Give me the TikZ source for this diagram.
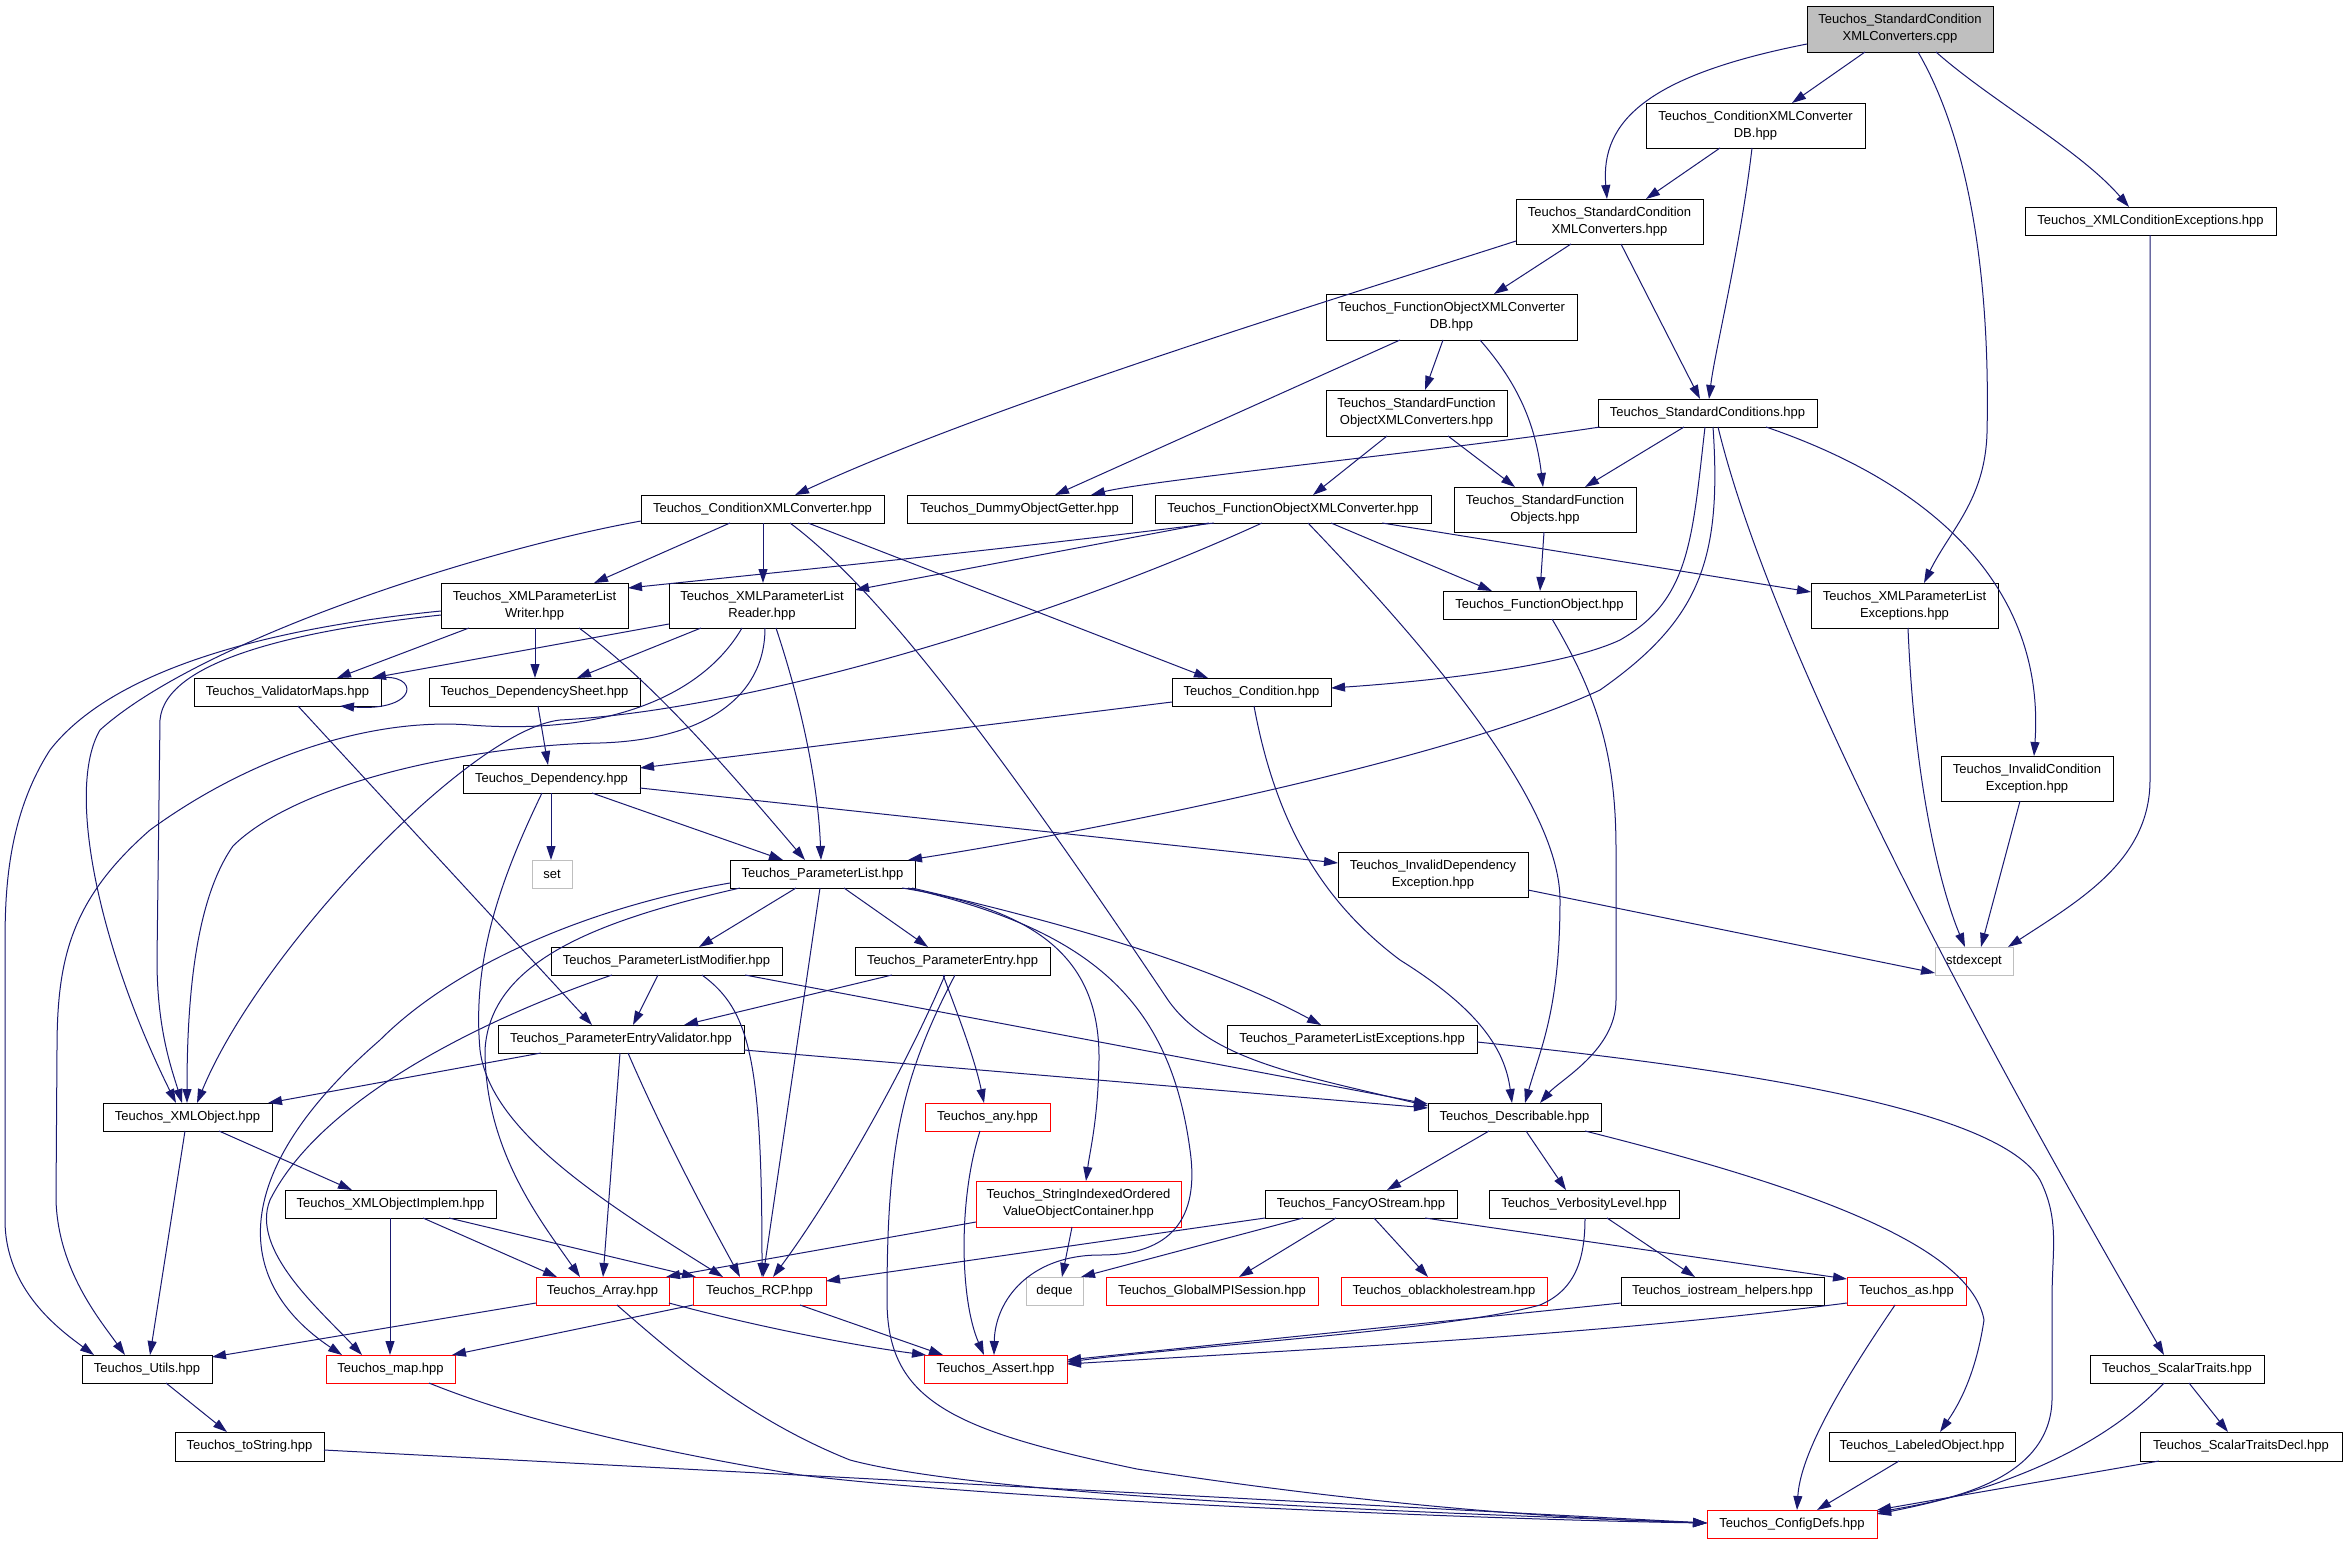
\documentclass[tikz,border=0pt]{standalone}
\usepackage{fontspec}
\setmainfont{Liberation Sans}
\usetikzlibrary{arrows.meta}
\definecolor{edgeblue}{RGB}{25,25,112}
\definecolor{nodegray}{RGB}{191,191,191}
\definecolor{nodered}{RGB}{255,0,0}
\newcommand\mkbox[7][box]{\node[#1, minimum width={(#4-#3)*1pt}, minimum height={(#6-#5)*1pt}] (#2) at ({(#3+#4)/2},{(#5+#6)/2}) {#7};}
\begin{document}
\begin{tikzpicture}[x=1pt,y=-1pt,
  font=\fontsize{13}{17}\selectfont,
  box/.style={draw=black, line width=0.9pt, fill=white, inner sep=0pt, outer sep=0pt, align=center, text=black},
  redbox/.style={box, draw=nodered},
  graybox/.style={box, draw=nodegray},
  rootbox/.style={box, fill=nodegray},
  conn/.style={draw=edgeblue, line width=1pt, -{Triangle[length=14pt,width=9pt]}}]
\fill[white] (0,0) rectangle (2347,1541);
\useasboundingbox (0,0) rectangle (2347,1541);

\mkbox[rootbox]{root}{1807}{1993}{6}{52}{Teuchos\_StandardCondition\\XMLConverters.cpp}
\mkbox{cxcdb}{1646}{1865}{103}{148}{Teuchos\_ConditionXMLConverter\\DB.hpp}
\mkbox{scxc}{1516}{1703}{199}{244}{Teuchos\_StandardCondition\\XMLConverters.hpp}
\mkbox{xmlcondexc}{2025}{2276}{207}{235}{Teuchos\_XMLConditionExceptions.hpp}
\mkbox{foxcdb}{1326}{1577}{294}{340}{Teuchos\_FunctionObjectXMLConverter\\DB.hpp}
\mkbox{sfoxc}{1326}{1507}{390}{436}{Teuchos\_StandardFunction\\ObjectXMLConverters.hpp}
\mkbox{stdcond}{1598}{1817}{399}{427}{Teuchos\_StandardConditions.hpp}
\mkbox{cxc}{641}{884}{495}{523}{Teuchos\_ConditionXMLConverter.hpp}
\mkbox{dog}{907}{1132}{495}{523}{Teuchos\_DummyObjectGetter.hpp}
\mkbox{foxc}{1155}{1431}{495}{523}{Teuchos\_FunctionObjectXMLConverter.hpp}
\mkbox{sfo}{1454}{1636}{487}{532}{Teuchos\_StandardFunction\\Objects.hpp}
\mkbox{writer}{441}{628}{583}{628}{Teuchos\_XMLParameterList\\Writer.hpp}
\mkbox{reader}{669}{855}{583}{628}{Teuchos\_XMLParameterList\\Reader.hpp}
\mkbox{fo}{1443}{1636}{591}{619}{Teuchos\_FunctionObject.hpp}
\mkbox{xplexc}{1811}{1998}{583}{628}{Teuchos\_XMLParameterList\\Exceptions.hpp}
\mkbox{valmaps}{194}{381}{678}{706}{Teuchos\_ValidatorMaps.hpp}
\mkbox{depsheet}{429}{640}{678}{706}{Teuchos\_DependencySheet.hpp}
\mkbox{cond}{1172}{1331}{678}{706}{Teuchos\_Condition.hpp}
\mkbox{dep}{463}{640}{765}{793}{Teuchos\_Dependency.hpp}
\mkbox{invcondexc}{1941}{2113}{756}{801}{Teuchos\_InvalidCondition\\Exception.hpp}
\mkbox[graybox]{set}{532}{572}{860}{888}{set}
\mkbox{plist}{730}{915}{860}{888}{Teuchos\_ParameterList.hpp}
\mkbox{invdepexc}{1338}{1528}{852}{897}{Teuchos\_InvalidDependency\\Exception.hpp}
\mkbox[graybox]{stdexcept}{1935}{2013}{947}{975}{stdexcept}
\mkbox{plmod}{551}{782}{947}{975}{Teuchos\_ParameterListModifier.hpp}
\mkbox{pentry}{855}{1050}{947}{975}{Teuchos\_ParameterEntry.hpp}
\mkbox{pev}{498}{744}{1025}{1053}{Teuchos\_ParameterEntryValidator.hpp}
\mkbox{plexc}{1227}{1477}{1025}{1053}{Teuchos\_ParameterListExceptions.hpp}
\mkbox{xmlobj}{103}{272}{1103}{1131}{Teuchos\_XMLObject.hpp}
\mkbox[redbox]{any}{925}{1050}{1103}{1131}{Teuchos\_any.hpp}
\mkbox{describable}{1428}{1601}{1103}{1131}{Teuchos\_Describable.hpp}
\mkbox[redbox]{sioc}{976}{1181}{1181}{1227}{Teuchos\_StringIndexedOrdered\\ValueObjectContainer.hpp}
\mkbox{xmlimpl}{285}{496}{1190}{1218}{Teuchos\_XMLObjectImplem.hpp}
\mkbox{fancy}{1265}{1457}{1190}{1218}{Teuchos\_FancyOStream.hpp}
\mkbox{verb}{1489}{1679}{1190}{1218}{Teuchos\_VerbosityLevel.hpp}
\mkbox[redbox]{array}{536}{669}{1277}{1305}{Teuchos\_Array.hpp}
\mkbox[redbox]{rcp}{693}{826}{1277}{1305}{Teuchos\_RCP.hpp}
\mkbox[graybox]{deque}{1026}{1083}{1277}{1305}{deque}
\mkbox[redbox]{gmpi}{1106}{1318}{1277}{1305}{Teuchos\_GlobalMPISession.hpp}
\mkbox[redbox]{obh}{1341}{1547}{1277}{1305}{Teuchos\_oblackholestream.hpp}
\mkbox{iostream}{1621}{1824}{1277}{1305}{Teuchos\_iostream\_helpers.hpp}
\mkbox[redbox]{as}{1847}{1966}{1277}{1305}{Teuchos\_as.hpp}
\mkbox{utils}{82}{212}{1355}{1383}{Teuchos\_Utils.hpp}
\mkbox[redbox]{map}{326}{455}{1355}{1383}{Teuchos\_map.hpp}
\mkbox[redbox]{assert}{924}{1067}{1355}{1383}{Teuchos\_Assert.hpp}
\mkbox{scalartraits}{2090}{2264}{1355}{1383}{Teuchos\_ScalarTraits.hpp}
\mkbox{tostring}{175}{324}{1432}{1461}{Teuchos\_toString.hpp}
\mkbox{labeled}{1829}{2015}{1432}{1461}{Teuchos\_LabeledObject.hpp}
\mkbox{stdecl}{2140}{2342}{1432}{1461}{Teuchos\_ScalarTraitsDecl.hpp}
\mkbox[redbox]{configdefs}{1707}{1877}{1510}{1538}{Teuchos\_ConfigDefs.hpp}

% root
\draw[conn] (root.west |- 0,44) .. controls (1650,75) and (1600,120) .. (scxc.north -| 1607,0);
\draw[conn] (root.south -| 1865,0) -- (cxcdb.north -| 1792,0);
\draw[conn] (root.south -| 1918,0) .. controls (1975,150) and (1990,300) .. (1987,433) .. controls (1985,500) and (1950,530) .. (xplexc.north -| 1924,0);
\draw[conn] (root.south -| 1936,0) .. controls (1990,100) and (2080,150) .. (xmlcondexc.north -| 2129,0);
% cxcdb, scxc
\draw[conn] (cxcdb.south -| 1720,0) -- (scxc.north -| 1646,0);
\draw[conn] (cxcdb.south -| 1752,0) .. controls (1740,250) and (1715,350) .. (stdcond.north -| 1709,0);
\draw[conn] (scxc.south -| 1621,0) -- (stdcond.north -| 1700,0);
\draw[conn] (scxc.south -| 1571,0) -- (foxcdb.north -| 1494,0);
\draw[conn] (scxc.west |- 0,241) .. controls (1380,285) and (1000,400) .. (cxc.north -| 795,0);
% foxcdb, sfoxc
\draw[conn] (foxcdb.south -| 1400,0) -- (dog.north -| 1055,0);
\draw[conn] (foxcdb.south -| 1443,0) -- (sfoxc.north -| 1425,0);
\draw[conn] (foxcdb.south -| 1480,0) .. controls (1515,380) and (1535,420) .. (sfo.north -| 1543,0);
\draw[conn] (sfoxc.south -| 1387,0) -- (foxc.north -| 1313,0);
\draw[conn] (sfoxc.south -| 1448,0) -- (sfo.north -| 1515,0);
% stdcond
\draw[conn] (stdcond.south -| 1600,0) .. controls (1450,450) and (1150,480) .. (dog.north -| 1091,0);
\draw[conn] (stdcond.south -| 1684,0) -- (sfo.north -| 1585,0);
\draw[conn] (stdcond.south -| 1705,0) .. controls (1692,540) and (1690,600) .. (1620,640) .. controls (1560,668) and (1420,682) .. (cond.east |- 0,688);
\draw[conn] (stdcond.south -| 1713,0) .. controls (1722,560) and (1700,620) .. (1600,690) .. controls (1450,760) and (1100,830) .. (plist.north -| 908,0);
\draw[conn] (stdcond.south -| 1718,0) .. controls (1760,600) and (1900,900) .. (scalartraits.north -| 2164,0);
\draw[conn] (stdcond.south -| 1766,0) .. controls (1950,490) and (2045,600) .. (invcondexc.north -| 2034,0);
% cxc
\draw[conn] (cxc.south -| 730,0) -- (writer.north -| 594,0);
\draw[conn] (cxc.south -| 763,0) -- (reader.north -| 763,0);
\draw[conn] (cxc.south -| 808,0) -- (cond.north -| 1208,0);
\draw[conn] (cxc.south -| 790,0) .. controls (880,590) and (1000,750) .. (1168,1000) .. controls (1210,1060) and (1300,1075) .. (describable.west |- 0,1106);
\draw[conn] (cxc.west |- 0,521) .. controls (480,550) and (200,640) .. (100,730) .. controls (65,790) and (100,950) .. (xmlobj.north -| 176,0);
% writer
\draw[conn] (writer.west |- 0,611) .. controls (300,625) and (120,660) .. (50,750) .. controls (5,820) and (5,900) .. (5,950) -- (5,1220) .. controls (5,1290) and (60,1330) .. (utils.north -| 94,0);
\draw[conn] (writer.west |- 0,615) .. controls (300,630) and (165,660) .. (160,720) -- (157,960) .. controls (157,1030) and (172,1070) .. (xmlobj.north -| 182,0);
\draw[conn] (writer.south -| 469,0) -- (valmaps.north -| 337,0);
\draw[conn] (writer.south -| 535,0) -- (depsheet.north -| 535,0);
\draw[conn] (writer.south -| 579,0) .. controls (650,680) and (720,760) .. (plist.north -| 805,0);
% reader
\draw[conn] (reader.west |- 0,624) -- (valmaps.north -| 372,0);
\draw[conn] (reader.south -| 701,0) -- (depsheet.north -| 577,0);
\draw[conn] (reader.south -| 776,0) .. controls (800,700) and (818,780) .. (plist.north -| 821,0);
\draw[conn] (reader.south -| 742,0) .. controls (700,700) and (600,735) .. (470,725) .. controls (380,718) and (260,750) .. (150,830) .. controls (70,900) and (57,960) .. (57,1050) -- (56,1200) .. controls (58,1270) and (100,1320) .. (utils.north -| 125,0);
\draw[conn] (reader.south -| 765,0) .. controls (765,700) and (700,740) .. (600,743) .. controls (480,745) and (300,780) .. (233,846) .. controls (195,900) and (187,1000) .. (xmlobj.north -| 187,0);
% foxc
\draw[conn] (foxc.south -| 1262,0) .. controls (1050,620) and (750,710) .. (560,720) .. controls (470,730) and (260,950) .. (xmlobj.north -| 197,0);
\draw[conn] (foxc.south -| 1214,0) .. controls (1000,550) and (800,570) .. (writer.east |- 0,588);
\draw[conn] (foxc.south -| 1209,0) -- (reader.east |- 0,590);
\draw[conn] (foxc.south -| 1331,0) -- (fo.north -| 1492,0);
\draw[conn] (foxc.south -| 1382,0) -- (xplexc.west |- 0,592);
\draw[conn] (foxc.south -| 1308,0) .. controls (1420,640) and (1560,800) .. (1560,900) .. controls (1560,1010) and (1540,1050) .. (describable.north -| 1525,0);
\draw[conn] (sfo.south -| 1544,0) -- (fo.north -| 1540,0);
\draw[conn] (fo.south -| 1552,0) .. controls (1600,700) and (1616,760) .. (1616,850) -- (1616,1000) .. controls (1616,1050) and (1560,1080) .. (describable.north -| 1540,0);
% cond, dep
\draw[conn] (cond.west |- 0,702) -- (dep.east |- 0,768);
\draw[conn] (cond.south -| 1254,0) .. controls (1275,820) and (1320,900) .. (1400,960) .. controls (1480,1010) and (1505,1050) .. (describable.north -| 1512,0);
\draw[conn] (dep.south -| 551,0) -- (set.north -| 551,0);
\draw[conn] (dep.south -| 592,0) -- (plist.north -| 783,0);
\draw[conn] (dep.east |- 0,788) -- (invdepexc.west |- 0,863);
\draw[conn] (dep.south -| 542,0) .. controls (500,880) and (472,960) .. (480,1050) .. controls (490,1130) and (600,1200) .. (rcp.north -| 723,0);
% plist
\draw[conn] (plist.south -| 796,0) -- (plmod.north -| 699,0);
\draw[conn] (plist.south -| 844,0) -- (pentry.north -| 928,0);
\draw[conn] (plist.south -| 820,0) -- (rcp.north -| 763,0);
\draw[conn] (plist.west |- 0,883) .. controls (600,905) and (460,960) .. (380,1040) .. controls (230,1170) and (230,1280) .. (map.north -| 342,0);
\draw[conn] (plist.south -| 740,0) .. controls (600,920) and (490,960) .. (485,1050) .. controls (485,1150) and (540,1220) .. (array.north -| 580,0);
\draw[conn] (plist.south -| 902,0) .. controls (1040,910) and (1100,960) .. (1099,1060) .. controls (1098,1120) and (1090,1150) .. (sioc.north -| 1086,0);
\draw[conn] (plist.south -| 908,0) .. controls (1090,930) and (1170,1000) .. (1190,1150) .. controls (1200,1220) and (1170,1255) .. (1100,1255) .. controls (1030,1255) and (995,1300) .. (assert.north -| 994,0);
\draw[conn] (plist.south -| 912,0) .. controls (1050,920) and (1200,960) .. (plexc.north -| 1321,0);
% plmod
\draw[conn] (plmod.south -| 658,0) -- (pev.north -| 633,0);
\draw[conn] (plmod.south -| 702,0) .. controls (750,1010) and (762,1060) .. (rcp.north -| 762,0);
\draw[conn] (plmod.south -| 745,0) -- (describable.west |- 0,1104);
\draw[conn] (plmod.south -| 612,0) .. controls (480,1020) and (320,1100) .. (270,1200) .. controls (250,1250) and (320,1310) .. (map.north -| 362,0);
% pentry
\draw[conn] (pentry.south -| 892,0) -- (pev.north -| 684,0);
\draw[conn] (pentry.south -| 943,0) .. controls (960,1020) and (975,1060) .. (any.north -| 984,0);
\draw[conn] (pentry.south -| 945,0) .. controls (900,1080) and (830,1200) .. (rcp.north -| 773,0);
\draw[conn] (pentry.south -| 955,0) .. controls (900,1080) and (887,1150) .. (887,1300) .. controls (887,1400) and (950,1430) .. (1137,1469) .. controls (1400,1510) and (1600,1520) .. (configdefs.west |- 0,1523);
% pev, valmaps, depsheet
\draw[conn] (pev.south -| 541,0) -- (xmlobj.north -| 268,0);
\draw[conn] (pev.south -| 620,0) -- (array.north -| 603,0);
\draw[conn] (pev.south -| 628,0) .. controls (670,1150) and (720,1240) .. (rcp.north -| 740,0);
\draw[conn] (pev.east |- 0,1050) -- (describable.west |- 0,1108);
\draw[conn] (valmaps.north -| 378,0) .. controls (420,672) and (420,712) .. (valmaps.south -| 340,0);
\draw[conn] (valmaps.south -| 298,0) -- (pev.north -| 592,0);
\draw[conn] (depsheet.south -| 538,0) -- (dep.north -| 548,0);
% xmlobj, xmlimpl
\draw[conn] (xmlobj.south -| 185,0) -- (utils.north -| 150,0);
\draw[conn] (xmlobj.south -| 219,0) -- (xmlimpl.north -| 352,0);
\draw[conn] (xmlimpl.south -| 390,0) -- (map.north -| 390,0);
\draw[conn] (xmlimpl.south -| 423,0) -- (array.north -| 557,0);
\draw[conn] (xmlimpl.south -| 449,0) -- (rcp.north -| 696,0);
% array, rcp, map, utils, tostring
\draw[conn] (array.west |- 0,1303) -- (utils.east |- 0,1357);
\draw[conn] (array.east |- 0,1303) .. controls (750,1325) and (850,1345) .. (assert.north -| 926,0);
\draw[conn] (array.south -| 617,0) .. controls (680,1360) and (750,1420) .. (850,1460) .. controls (1000,1500) and (1500,1515) .. (configdefs.west |- 0,1523);
\draw[conn] (rcp.west |- 0,1305) -- (map.north -| 452,0);
\draw[conn] (rcp.south -| 800,0) -- (assert.north -| 943,0);
\draw[conn] (map.south -| 429,0) .. controls (520,1420) and (650,1450) .. (800,1475) .. controls (1000,1500) and (1500,1520) .. (configdefs.west |- 0,1523);
\draw[conn] (tostring.east |- 0,1450) -- (configdefs.west |- 0,1523);
\draw[conn] (utils.south -| 166,0) -- (tostring.north -| 227,0);
% sioc, any
\draw[conn] (sioc.west |- 0,1222) -- (array.north -| 666,0);
\draw[conn] (sioc.south -| 1072,0) -- (deque.north -| 1062,0);
\draw[conn] (any.south -| 980,0) .. controls (958,1200) and (960,1300) .. (assert.north -| 984,0);
% fancy, verb, describable
\draw[conn] (fancy.west |- 0,1218) -- (rcp.east |- 0,1281);
\draw[conn] (fancy.south -| 1303,0) -- (deque.north -| 1081,0);
\draw[conn] (fancy.south -| 1336,0) -- (gmpi.north -| 1239,0);
\draw[conn] (fancy.south -| 1374,0) -- (obh.north -| 1428,0);
\draw[conn] (fancy.south -| 1425,0) -- (as.west |- 0,1279);
\draw[conn] (verb.south -| 1607,0) -- (iostream.north -| 1695,0);
\draw[conn] (verb.south -| 1585,0) .. controls (1585,1260) and (1575,1290) .. (1540,1305) .. controls (1450,1330) and (1200,1345) .. (assert.east |- 0,1362);
\draw[conn] (describable.south -| 1489,0) -- (fancy.north -| 1387,0);
\draw[conn] (describable.south -| 1526,0) -- (verb.north -| 1566,0);
\draw[conn] (describable.south -| 1585,0) .. controls (1780,1180) and (1970,1240) .. (1984,1320) .. controls (1975,1380) and (1955,1410) .. (labeled.north -| 1940,0);
% iostream, as, labeled, scalar traits
\draw[conn] (iostream.west |- 0,1303) -- (assert.east |- 0,1360);
\draw[conn] (as.west |- 0,1303) .. controls (1600,1335) and (1300,1350) .. (assert.east |- 0,1364);
\draw[conn] (as.south -| 1895,0) .. controls (1830,1400) and (1800,1460) .. (configdefs.north -| 1797,0);
\draw[conn] (labeled.south -| 1899,0) -- (configdefs.north -| 1817,0);
\draw[conn] (scalartraits.south -| 2189,0) -- (stdecl.north -| 2228,0);
\draw[conn] (scalartraits.south -| 2164,0) .. controls (2100,1450) and (2000,1490) .. (configdefs.east |- 0,1514);
\draw[conn] (stdecl.south -| 2159,0) -- (configdefs.east |- 0,1510);
\draw[conn] (plexc.east |- 0,1042) .. controls (1750,1070) and (2000,1110) .. (2040,1180) .. controls (2060,1220) and (2052,1250) .. (2052,1300) -- (2052,1400) .. controls (2050,1480) and (1950,1500) .. (configdefs.east |- 0,1512);
% exceptions
\draw[conn] (invdepexc.east |- 0,890) -- (stdexcept.west |- 0,973);
\draw[conn] (xplexc.south -| 1908,0) .. controls (1915,800) and (1945,900) .. (stdexcept.north -| 1965,0);
\draw[conn] (invcondexc.south -| 2020,0) -- (stdexcept.north -| 1981,0);
\draw[conn] (xmlcondexc.south -| 2150,0) -- (2150,780) .. controls (2150,860) and (2080,900) .. (stdexcept.north -| 2008,0);
\end{tikzpicture}
\end{document}
